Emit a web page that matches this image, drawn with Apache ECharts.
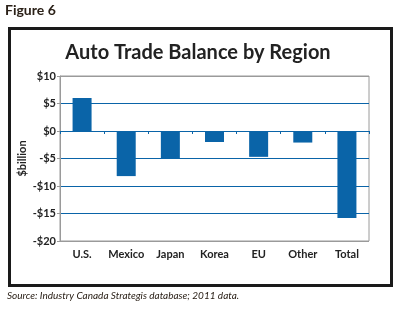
<!DOCTYPE html>
<html>
<head>
<meta charset="utf-8">
<script src="https://cdn.jsdelivr.net/npm/echarts@6/dist/echarts.min.js"></script>
<style>
  html, body { margin: 0; padding: 0; background: #fff; }
  #box { width: 396px; height: 311px; }
</style>
</head>
<body>
<div id="box"></div>
<script>
// regions and balance in $billion
var regions = ['U.S.', 'Mexico', 'Japan', 'Korea', 'EU', 'Other', 'Total']
var balance = [6, -8.2, -5, -2, -4.7, -2.1, -15.8]
var yTicks = [-20, -15, -10, -5, 0, 5, 10]

var blue = '#0a64a8'
var gray = '#9a9a9a'
var font = 'Lato'

// split line colours: outer lines are the gray frame of the plot
var splitColors = yTicks.map(function (v, i) {
  return (i === 0 || i === yTicks.length - 1) ? gray : blue
})

var myChart = echarts.init(document.getElementById('box'))
myChart.setOption({
  animation: false,
  textStyle: { fontFamily: font },
  title: {
    text: 'Auto Trade Balance by Region',
    left: 'center',
    top: 38,
    textStyle: { fontSize: 20, fontWeight: 'bold', color: '#222', fontFamily: font }
  },
  graphic: [
    {
      type: 'text', left: 5, top: 3,
      style: { text: 'Figure 6', fontSize: 14, fontWeight: 'bold', fill: '#2b2118', fontFamily: font }
    },
    {
      type: 'rect', left: 7, top: 26,
      shape: { width: 382, height: 257 },
      style: { fill: 'none', stroke: '#1a1a1a', lineWidth: 3 }
    },
    {
      type: 'text', left: 7, top: 291,
      style: { text: 'Source: Industry Canada Strategis database; 2011 data.', fontSize: 10, fontStyle: 'italic', fill: '#2b2118', fontFamily: font }
    }
  ],
  grid: { left: 60, right: 27, top: 76, bottom: 70, show: true, borderColor: gray, borderWidth: 1 },
  xAxis: [
    {
      type: 'category',
      data: regions,
      position: 'bottom',
      axisLine: { show: false, onZero: false },
      axisTick: { show: false },
      axisLabel: { interval: 0, margin: 8, fontSize: 11, fontWeight: 'bold', color: '#222' }
    },
    {
      type: 'category',
      data: regions,
      position: 'bottom',
      axisLine: { show: true, onZero: true, lineStyle: { color: blue, width: 1 } },
      axisTick: { show: true, interval: 0, length: 3, lineStyle: { color: blue } },
      axisLabel: { show: false }
    }
  ],
  yAxis: {
    type: 'value',
    min: -20,
    max: 10,
    interval: 5,
    name: '$billion',
    nameLocation: 'middle',
    nameRotate: 90,
    nameGap: 32,
    nameMoveOverlap: false,
    nameTextStyle: { fontSize: 11, fontWeight: 'bold', color: '#222' },
    axisLine: { show: true, lineStyle: { color: gray } },
    axisTick: { show: true, length: 3, lineStyle: { color: gray } },
    axisLabel: {
      margin: 4,
      fontSize: 11,
      fontWeight: 'bold',
      color: '#222',
      formatter: function (v) { return v < 0 ? '-$' + (-v) : '$' + v }
    },
    splitLine: { show: true, lineStyle: { color: splitColors, width: 1 } }
  },
  series: [
    {
      type: 'bar',
      xAxisIndex: 0,
      data: balance,
      barWidth: 19,
      itemStyle: { color: blue }
    }
  ]
})
</script>
</body>
</html>
